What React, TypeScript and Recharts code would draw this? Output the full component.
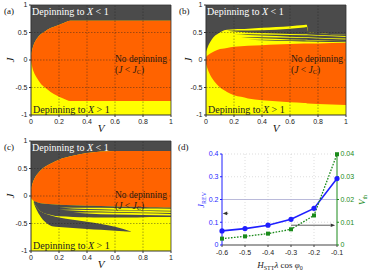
import React from 'react';
import { ComposedChart, Area, Line, XAxis, YAxis, ReferenceLine } from 'recharts';

const GRAY = '#4b4b4b';
const ORANGE = '#ff6300';
const YELLOW = '#ffff00';
const BLUE = '#1f1fff';
const GREEN = '#1a8a1a';
const TICK_FONT = "'Liberation Sans', Arial, sans-serif";
const SERIF = "'Liberation Serif', 'Times New Roman', serif";

type Pair = [number, number] | null;

// ---------- common axes ----------
const vTicks = [0, 0.2, 0.4, 0.6, 0.8, 1];
const jTicks = [-1, -0.5, 0, 0.5, 1];
const vGrid = [0.2, 0.4, 0.6, 0.8];
const jGrid = [-0.5, 0, 0.5];

// ---------- panel (a) ----------
const aV = [0, 0.01, 0.02, 0.04, 0.07, 0.1, 0.14, 0.18, 0.23, 0.28, 0.3, 0.5, 0.75, 1];
const aUpper = [0.08, 0.2, 0.28, 0.38, 0.47, 0.52, 0.58, 0.62, 0.67, 0.715, 0.715, 0.715, 0.715, 0.715];
const aLower = [-0.02, -0.14, -0.22, -0.32, -0.43, -0.5, -0.58, -0.64, -0.7, -0.745, -0.745, -0.745, -0.745, -0.745];

// ---------- panel (b) ----------
const bV = [0, 0.01, 0.02, 0.04, 0.06, 0.1, 0.13, 0.15, 0.2, 0.25, 0.3, 0.4, 0.5, 0.6, 0.7, 0.72, 0.73, 0.8, 0.9, 1];
const bUpper = [0.05, 0.08, 0.1, 0.13, 0.16, 0.2, 0.21, 0.22, 0.24, 0.25, 0.26, 0.27, 0.28, 0.29, 0.3, 0.3, 0.3, 0.3, 0.31, 0.31];
const bLower = [-0.07, -0.15, -0.22, -0.32, -0.39, -0.5, -0.55, -0.58, -0.64, -0.67, -0.7, -0.73, -0.75, -0.77, -0.78, -0.785, -0.79, -0.8, -0.81, -0.82];
const bYellowTop = [0.15, 0.22, 0.28, 0.37, 0.43, 0.5, 0.54, 0.55, 0.56, 0.565, 0.57, 0.585, 0.6, 0.615, 0.635, 0.64, 0.5, 0.49, 0.47, 0.46];
const bWedge1: Pair[] = [null, null, null, null, null, null, null, [0.53, 0.53], [0.52, 0.535], [0.51, 0.535], [0.5, 0.535], [0.49, 0.54], [0.48, 0.55], [0.475, 0.57], [0.47, 0.59], [0.47, 0.6], [0.465, 0.5], [0.455, 0.49], [0.445, 0.47], [0.435, 0.46]];
const bWedge2: Pair[] = [null, null, null, null, null, null, null, null, [0.47, 0.47], [0.465, 0.47], [0.455, 0.47], [0.445, 0.465], [0.435, 0.46], [0.425, 0.455], [0.415, 0.45], [0.413, 0.45], [0.412, 0.45], [0.405, 0.44], [0.397, 0.43], [0.39, 0.42]];
const bWedge3: Pair[] = [null, null, null, null, null, null, null, null, null, [0.42, 0.42], [0.41, 0.42], [0.395, 0.415], [0.385, 0.41], [0.375, 0.405], [0.367, 0.4], [0.366, 0.4], [0.365, 0.4], [0.36, 0.39], [0.352, 0.38], [0.345, 0.375]];
const bWedge4: Pair[] = [null, null, null, null, null, null, null, null, null, null, [0.37, 0.37], [0.36, 0.37], [0.35, 0.365], [0.345, 0.36], [0.338, 0.357], [0.337, 0.356], [0.336, 0.356], [0.333, 0.352], [0.328, 0.345], [0.325, 0.34]];

// ---------- panel (c) ----------
const cV = [0, 0.01, 0.02, 0.04, 0.07, 0.1, 0.15, 0.2, 0.3, 0.4, 0.5, 0.6, 0.72, 0.8, 0.9, 1];
const cUpper = [0.12, 0.22, 0.29, 0.38, 0.47, 0.53, 0.6, 0.66, 0.73, 0.78, 0.81, 0.82, 0.82, 0.82, 0.82, 0.82];
const cLower = [-0.03, -0.07, -0.09, -0.11, -0.13, -0.14, -0.15, -0.16, -0.17, -0.175, -0.18, -0.19, -0.195, -0.2, -0.205, -0.21];
const cFringeLow = [null, null, -0.12, -0.2, -0.28, -0.32, -0.35, -0.37, -0.38, -0.385, -0.39, -0.39, -0.39, -0.385, -0.38, -0.38];
const cWedge: Pair[] = [null, null, [-0.13, -0.12], [-0.25, -0.2], [-0.38, -0.28], [-0.47, -0.32], [-0.55, -0.36], [-0.565, -0.39], [-0.58, -0.43], [-0.6, -0.47], [-0.615, -0.51], [-0.63, -0.56], [-0.65, -0.65], null, null, null];
const cStripe1: Pair[] = [null, null, null, null, null, null, null, [-0.21, -0.21], [-0.225, -0.212], [-0.235, -0.215], [-0.24, -0.215], [-0.25, -0.22], [-0.255, -0.222], [-0.26, -0.225], [-0.265, -0.228], [-0.27, -0.232]];
const cStripe2: Pair[] = [null, null, null, null, null, null, null, [-0.25, -0.25], [-0.262, -0.248], [-0.275, -0.255], [-0.28, -0.26], [-0.29, -0.262], [-0.295, -0.265], [-0.3, -0.27], [-0.305, -0.275], [-0.31, -0.28]];
const cStripe3: Pair[] = [null, null, null, null, null, null, null, null, [-0.3, -0.3], [-0.318, -0.3], [-0.33, -0.3], [-0.335, -0.305], [-0.34, -0.31], [-0.345, -0.315], [-0.35, -0.32], [-0.355, -0.325]];

// ---------- panel (d) ----------
const dH = [-0.6, -0.5, -0.4, -0.3, -0.2, -0.1];
const dJrev = [0.062, 0.072, 0.087, 0.113, 0.161, 0.292];
const dVth = [0.0028, 0.0038, 0.005, 0.0069, 0.013, 0.0399];
const dXTicks = [-0.6, -0.5, -0.4, -0.3, -0.2, -0.1];
const dJTicks = [0, 0.1, 0.2, 0.3, 0.4];
const dVTicks = [0, 0.01, 0.02, 0.03, 0.04];

// ---------- data tables ----------
const aData = aV.map((V, i) => ({ V, base: [-1, 1], gray: [aUpper[i], 1], orange: [aLower[i], aUpper[i]] }));
const bData = bV.map((V, i) => ({
  V, base: [-1, 1], gray: [bYellowTop[i], 1], orange: [bLower[i], bUpper[i]],
  w1: bWedge1[i], w2: bWedge2[i], w3: bWedge3[i], w4: bWedge4[i],
}));
const cData = cV.map((V, i) => ({
  V, base: [-1, 1], gray: [cUpper[i], 1], orange: [cLower[i], cUpper[i]],
  fringe: cFringeLow[i] == null ? null : [cFringeLow[i] as number, cLower[i]],
  wedge: cWedge[i], s1: cStripe1[i], s2: cStripe2[i], s3: cStripe3[i],
}));
const dData = dH.map((h, i) => ({ h, j: dJrev[i], v: dVth[i] }));

type Layer = { key: string; color: string; type: 'linear' | 'monotone' };
const layersA: Layer[] = [
  { key: 'base', color: YELLOW, type: 'linear' },
  { key: 'gray', color: GRAY, type: 'monotone' },
  { key: 'orange', color: ORANGE, type: 'monotone' },
];
const layersB: Layer[] = [
  ...layersA,
  { key: 'w1', color: GRAY, type: 'linear' },
  { key: 'w2', color: GRAY, type: 'linear' },
  { key: 'w3', color: GRAY, type: 'linear' },
  { key: 'w4', color: GRAY, type: 'linear' },
];
const layersC: Layer[] = [
  ...layersA,
  { key: 'fringe', color: GRAY, type: 'monotone' },
  { key: 'wedge', color: GRAY, type: 'monotone' },
  { key: 's1', color: YELLOW, type: 'linear' },
  { key: 's2', color: YELLOW, type: 'linear' },
  { key: 's3', color: YELLOW, type: 'linear' },
];

function PhasePanel({ data, layers, left, top }: { data: any[]; layers: Layer[]; left: number; top: number }) {
  return (
    <div style={{ position: 'absolute', left, top, width: 187, height: 136 }}>
      <ComposedChart width={187} height={136} data={data} margin={{ top: 5, right: 16, bottom: 0, left: 0 }}>
        <XAxis dataKey="V" type="number" domain={[0, 1]} ticks={vTicks} interval={0} height={21}
          allowDataOverflow tickSize={2} tickMargin={2.5}
          axisLine={{ stroke: '#333' }} tickLine={{ stroke: '#333' }}
          tick={{ fontSize: 7, fill: '#222', fontFamily: TICK_FONT }} />
        <YAxis type="number" domain={[-1, 1]} ticks={jTicks} interval={0} width={31}
          allowDataOverflow tickSize={2} tickMargin={1.5}
          axisLine={{ stroke: '#333' }} tickLine={{ stroke: '#333' }}
          tick={{ fontSize: 7, fill: '#222', fontFamily: TICK_FONT }} />
        {layers.map((l) => (
          <Area key={l.key} dataKey={l.key} type={l.type} stroke="none" fill={l.color} fillOpacity={1}
            dot={false} activeDot={false} isAnimationActive={false} connectNulls={false} />
        ))}
        {vGrid.map((x) => (
          <ReferenceLine key={'gx' + x} x={x} stroke="#222" strokeOpacity={0.6} strokeWidth={0.7} strokeDasharray="1.5 1.5" />
        ))}
        {jGrid.map((y) => (
          <ReferenceLine key={'gy' + y} y={y} stroke="#222" strokeOpacity={0.6} strokeWidth={0.7} strokeDasharray="1.5 1.5" />
        ))}
        <ReferenceLine x={1} stroke="#333" strokeWidth={0.8} />
        <ReferenceLine y={1} stroke="#333" strokeWidth={0.8} />
      </ComposedChart>
    </div>
  );
}

const Arrow = (p: any) => {
  const { x1, y1, x2, y2 } = p;
  if (x1 == null || x2 == null) return null;
  const ang = Math.atan2(y2 - y1, x2 - x1);
  const L = 4.5, W = 1.8;
  const bx = x2 - L * Math.cos(ang), by = y2 - L * Math.sin(ang);
  const px = -Math.sin(ang) * W, py = Math.cos(ang) * W;
  return (
    <g>
      <line x1={x1} y1={y1} x2={bx} y2={by} stroke="#333" strokeWidth={0.8} />
      <polygon points={`${x2},${y2} ${bx + px},${by + py} ${bx - px},${by - py}`} fill="#333" />
    </g>
  );
};

const SquareDot = (p: any) => {
  const { cx, cy } = p;
  if (cx == null || cy == null) return <g />;
  return <rect x={cx - 2} y={cy - 2} width={4} height={4} fill={GREEN} />;
};

function PanelD() {
  return (
    <div style={{ position: 'absolute', left: 187, top: 136, width: 187, height: 140 }}>
      <ComposedChart width={187} height={140} data={dData} margin={{ top: 18, right: 0, bottom: 0, left: 0 }}>
        <XAxis dataKey="h" type="number" domain={[-0.6, -0.1]} ticks={dXTicks} interval={0} height={31}
          tickSize={2} tickMargin={3.5} axisLine={{ stroke: '#444' }} tickLine={{ stroke: '#444' }}
          tick={{ fontSize: 7, fill: '#222', fontFamily: TICK_FONT }} />
        <YAxis yAxisId="j" type="number" domain={[0, 0.4]} ticks={dJTicks} interval={0} width={35}
          tickSize={2} tickMargin={1.5} axisLine={{ stroke: BLUE }} tickLine={{ stroke: BLUE }}
          tick={{ fontSize: 7, fill: BLUE, fontFamily: TICK_FONT }} />
        <YAxis yAxisId="v" orientation="right" type="number" domain={[0, 0.04]} ticks={dVTicks} interval={0} width={37}
          tickSize={2} tickMargin={1.5} axisLine={{ stroke: GREEN }} tickLine={{ stroke: GREEN }}
          tick={{ fontSize: 7, fill: GREEN, fontFamily: TICK_FONT }} />
        {[-0.5, -0.4, -0.3, -0.2].map((x) => (
          <ReferenceLine key={'dx' + x} yAxisId="j" x={x} stroke="#c8c8c8" strokeWidth={0.6} strokeDasharray="1 2" />
        ))}
        {[0.1, 0.3, 0.4].map((y) => (
          <ReferenceLine key={'dy' + y} yAxisId="j" y={y} stroke="#c8c8c8" strokeWidth={0.6} strokeDasharray="1 2" />
        ))}
        <ReferenceLine yAxisId="j" y={0.2} stroke="#a8a8d0" strokeWidth={0.8} />
        <Line yAxisId="j" dataKey="j" type="linear" stroke={BLUE} strokeWidth={1.6}
          dot={{ r: 1.8, fill: BLUE, stroke: BLUE }} activeDot={false} isAnimationActive={false} />
        <Line yAxisId="v" dataKey="v" type="linear" stroke={GREEN} strokeWidth={1.3} strokeDasharray="1.6 1.4"
          dot={SquareDot} activeDot={false} isAnimationActive={false} />
        <ReferenceLine yAxisId="j" segment={[{ x: -0.573, y: 0.139 }, { x: -0.597, y: 0.139 }]} shape={Arrow} />
        <ReferenceLine yAxisId="v" segment={[{ x: -0.3, y: 0.0087 }, { x: -0.108, y: 0.0087 }]} shape={Arrow} />
      </ComposedChart>
    </div>
  );
}

function RegionTexts({ dx, dy, nx }: { dx: number; dy: number; nx: number }) {
  return (
    <g fontFamily={SERIF}>
      <text x={dx + 1} y={dy + 15} fill="#ffffff" fontSize={10}>Depinning to <tspan fontStyle="italic">X</tspan> {'<'} 1</text>
      <text x={nx} y={dy + 61.5} fill="#2a1a10" fontSize={9.5}>No depinning</text>
      <text x={nx} y={dy + 72.5} fill="#2a1a10" fontSize={9.5}>(<tspan fontStyle="italic">J</tspan> {'<'} <tspan fontStyle="italic">J</tspan><tspan fontSize={6.5} dy={1.5}>C</tspan><tspan dy={-1.5}>)</tspan></text>
      <text x={dx + 2} y={dy + 113} fill="#222" fontSize={10}>Depinning to <tspan fontStyle="italic">X</tspan> {'>'} 1</text>
    </g>
  );
}

export default function App() {
  return (
    <div style={{ position: 'absolute', left: 0, top: 0, width: 374, height: 276, background: '#fff' }}>
      <PhasePanel data={aData} layers={layersA} left={0} top={0} />
      <PhasePanel data={bData} layers={layersB} left={175} top={0} />
      <PhasePanel data={cData} layers={layersC} left={0} top={136} />
      <PanelD />
      <svg width={374} height={276} style={{ position: 'absolute', left: 0, top: 0, pointerEvents: 'none', zIndex: 10 }}>
        <g fontFamily={SERIF} fontSize={9} fill="#111">
          <text x={4} y={13.5}>(a)</text>
          <text x={179} y={13.5}>(b)</text>
          <text x={4} y={149.5}>(c)</text>
          <text x={178} y={149.5}>(d)</text>
        </g>
        <RegionTexts dx={31} dy={0} nx={115} />
        <RegionTexts dx={206} dy={0} nx={291} />
        <RegionTexts dx={31} dy={136} nx={115} />
        <g fontFamily={SERIF} fontSize={11} fontStyle="italic" fill="#111" textAnchor="middle">
          <text transform="translate(10,60) rotate(-90)" dy="0.35em">J</text>
          <text transform="translate(188,60) rotate(-90)" dy="0.35em">J</text>
          <text transform="translate(10,196) rotate(-90)" dy="0.35em">J</text>
          <text x={101} y={132}>V</text>
          <text x={276} y={132}>V</text>
          <text x={101} y={268}>V</text>
        </g>
        <g fontFamily={SERIF} fontSize={9} textAnchor="middle">
          <text transform="translate(201,200) rotate(-90)" dy="0.35em" fill={BLUE}>
            <tspan fontStyle="italic">J</tspan><tspan fontSize={6} dy={1.5}>REV</tspan>
          </text>
          <text transform="translate(362,200) rotate(-90)" dy="0.35em" fill={GREEN}>
            <tspan fontStyle="italic">V</tspan><tspan fontSize={6} dy={1.5}>th</tspan>
          </text>
          <text x={280} y={268} fill="#222">
            <tspan fontStyle="italic">H</tspan><tspan fontSize={6} dy={1.5}>STT</tspan>
            <tspan dy={-1.5} fontStyle="italic">λ</tspan> cos <tspan fontStyle="italic">φ</tspan><tspan fontSize={6} dy={1.5}>0</tspan>
          </text>
        </g>
      </svg>
    </div>
  );
}
